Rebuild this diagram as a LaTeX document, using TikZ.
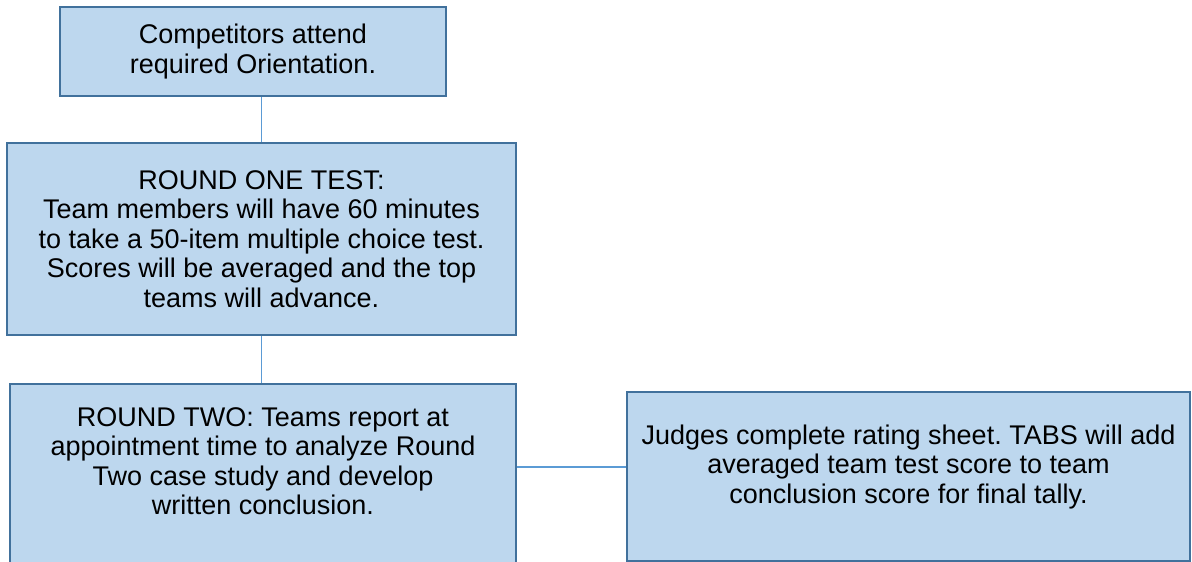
\documentclass[tikz,border=0pt]{standalone}
\usepackage{fontspec}
\setmainfont{Liberation Sans}
\usetikzlibrary{positioning}
\definecolor{boxfill}{RGB}{189,215,238}
\definecolor{boxline}{RGB}{65,113,156}
\definecolor{linkline}{RGB}{91,155,213}
\frenchspacing

\begin{document}
\begin{tikzpicture}[
          x=1pt, y=-1pt,
          box/.style = {rectangle, draw=boxline, fill=boxfill, line width=2pt, inner sep=0pt},
          boxtext/.style = {align=center, inner sep=0pt, font=\fontsize{27}{29.5}\selectfont},
          link/.style = {draw=linkline, line width=1.3pt}
        ]
        \useasboundingbox (0,0) rectangle (1192,562);

        % Boxes
        \node[box, minimum width=386, minimum height=89] (orient) at (253,51.5) {};
        \node[box, minimum width=509, minimum height=192] (roundone) at (261.5,239) {};
        \node[box, minimum width=506, minimum height=196] (roundtwo) at (263,482) {};
        \node[box, minimum width=563, minimum height=169] (judges) at (908.5,476.5) {};

        % Texts
        \node[boxtext] (orienttext) at (orient.center) {Competitors attend\\required Orientation.};
        \node[boxtext] (roundonetext) at (roundone.center) {ROUND ONE TEST:\\Team members will have 60 minutes\\to take a 50-item multiple choice test.\\Scores will be averaged and the top\\teams will advance.};
        \node[boxtext] (roundtwotext) at (263,461) {ROUND TWO: Teams report at\\appointment time to analyze Round\\Two case study and develop\\written conclusion.};
        \node[boxtext] (judgestext) at (908.5,467) {Judges complete rating sheet. TABS will add\\averaged team test score to team\\conclusion score for final tally.};

        % Connectors
        \draw[link] (roundone.north) -- (roundone.north |- orient.south);
        \draw[link] (roundone.south) -- (roundone.south |- roundtwo.north);
        \draw[link] (roundtwo.east |- judgestext) -- (judges.west |- judgestext);

      \end{tikzpicture}
\end{document}
